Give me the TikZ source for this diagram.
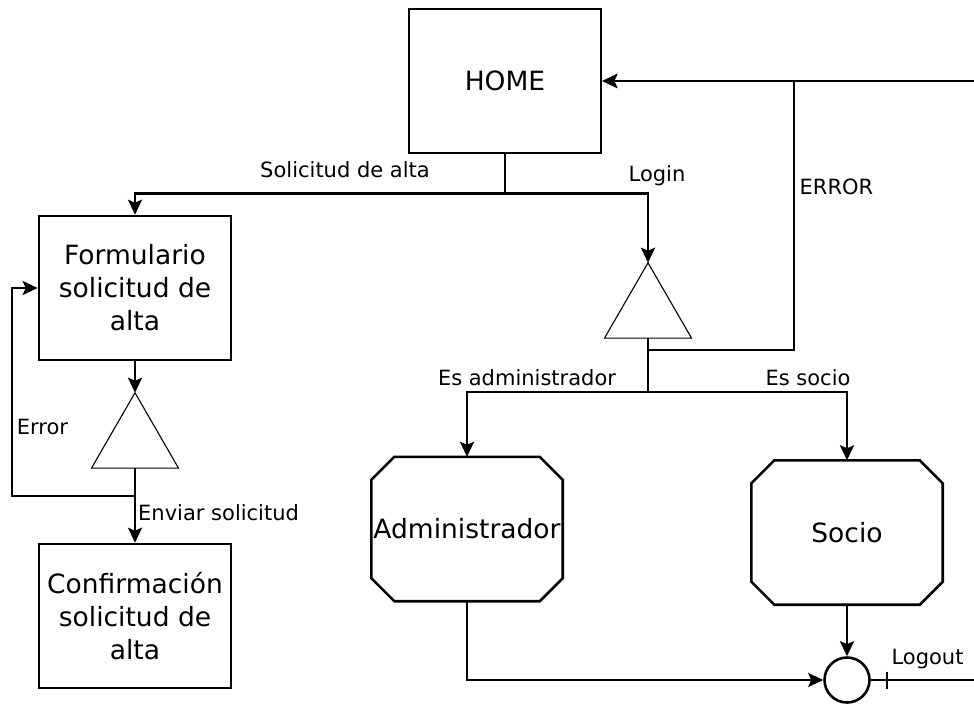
\documentclass[tikz,border=0pt]{standalone}
\usepackage{fontspec}
\setmainfont{DejaVu Sans}
\usetikzlibrary{arrows.meta,positioning,shapes.geometric}

\tikzset{
  box/.style={draw,line width=2.6pt,rectangle,minimum width=192pt,minimum height=144pt,inner sep=0pt,align=center,font=\fontsize{26.5}{33}\selectfont},
  octo/.style={rectangle,minimum width=191pt,minimum height=144pt,inner sep=0pt,font=\fontsize{26.5}{33}\selectfont},
  check/.style={draw,line width=1.1pt,regular polygon,regular polygon sides=3,minimum size=100.5pt,inner sep=0pt,outer sep=0pt},
  lbl/.style={font=\fontsize{21}{25}\selectfont,inner sep=0pt},
  arr/.style={->,line width=2.6pt}
}

\begin{document}
\begin{tikzpicture}[x=1pt,y=-1pt,>={Stealth[length=15pt,width=14pt,inset=3pt]}]
    \useasboundingbox (0,0) rectangle (974,704);

    % pages
    \node[box] (home) at (505,81) {HOME};
    \node[box] (form) at (135,288) {Formulario\\solicitud de\\alta};
    \node[box] (conf) at (135,616) {Confirmación\\solicitud de\\alta};
    \node[octo] (admin) at (467,529) {Administrador};
    \node[octo] (socio) at (847,532.5) {Socio};
    \foreach \n in {admin,socio}
      \draw[line width=2.6pt] ([xshift=23pt]\n.north west) -- ([xshift=-23pt]\n.north east)
        -- ([yshift=-23pt]\n.north east) -- ([yshift=23pt]\n.south east)
        -- ([xshift=-23pt]\n.south east) -- ([xshift=23pt]\n.south west)
        -- ([yshift=23pt]\n.south west) -- ([yshift=-23pt]\n.north west) -- cycle;

    % checks
    \node[check] (login) at (648,313) {};
    \node[check] (enviar) at (135,443) {};
    \node[draw,circle,line width=2.6pt,minimum size=45pt,inner sep=0pt] (out) at (847,680) {};
    \coordinate (errj) at (794,81);

    % labels
    \node[lbl] (lsol) at (345,170) {Solicitud de alta};
    \node[lbl] (llog) at (657,176) {Login};
    \node[lbl] (lerr) at (836.5,187) {ERROR};
    \node[lbl] (ladm) at (527,378) {Es administrador};
    \node[lbl] (lsoc) at (808,378) {Es socio};
    \node[lbl] (lferr) at (42.5,427) {Error};
    \node[lbl,right] (lenv) at (138,513) {Enviar solicitud};
    \node[lbl] (lout) at (927.5,659) {Logout};

    \draw[arr] (home.south) -- ++(0,39) -| (form.north);
    \draw[arr] (home.south) -- ++(0,39) -| (login.north);
    \draw[arr] (login.south) -- ++(0,54) -| (admin.north);
    \draw[arr] (login.south) -- ++(0,54) -| (socio.north);
    \draw[arr] ([yshift=-12pt]login.south) -| (errj) -- (home.east);

    \draw[arr] (form.south) -- (enviar.north);
    \draw[arr] (enviar.south) -- (conf.north);
    \draw[arr] ([yshift=-28pt]enviar.south) -- ++(-123,0) |- (form.west);

    \draw[arr] (admin.south) |- (out.west);
    \draw[arr] (socio.south) -- (out.north);
    \draw[arr] (out.east) -- ++(107.5,0) |- (home.east);
    \draw[line width=2.6pt] ([xshift=16pt]out.east) +(0,-8.5) -- +(0,8.5);
  \end{tikzpicture}
\end{document}
